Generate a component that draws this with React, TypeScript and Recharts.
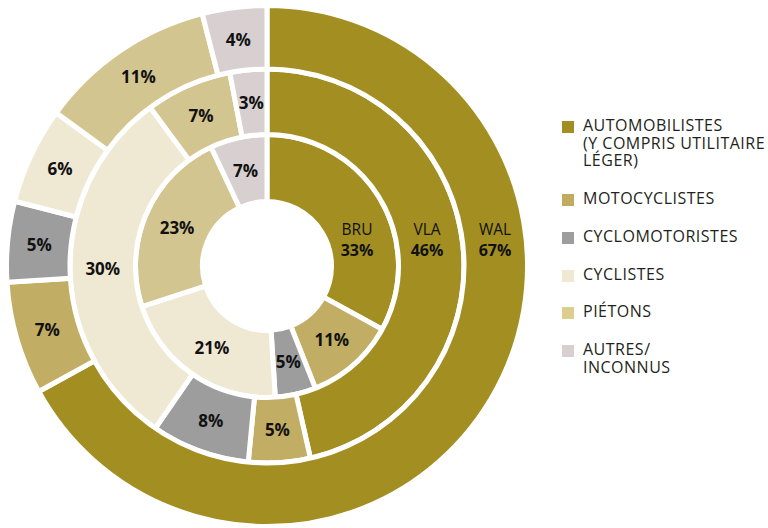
import { PieChart, Pie, Cell } from "recharts";

const CATEGORIES = [
  "Automobilistes",
  "Motocyclistes",
  "Cyclomotoristes",
  "Cyclistes",
  "Piétons",
  "Autres/inconnus",
];

const LEGEND_LABELS = [
  "AUTOMOBILISTES\n(Y COMPRIS UTILITAIRE\nLÉGER)",
  "MOTOCYCLISTES",
  "CYCLOMOTORISTES",
  "CYCLISTES",
  "PIÉTONS",
  "AUTRES/\nINCONNUS",
];

const COLORS = [
  "#a38f21", // olive
  "#c1ad63", // tan
  "#9d9d9d", // grey
  "#efe8d3", // cream
  "#d3c590", // light tan
  "#d8d0d0", // pinkish grey
];

const LEGEND_COLORS = ["#a38f21", "#c0ab60", "#9d9d9d", "#efe8d3", "#dccf8e", "#d8d0d0"];

const REGIONS = ["BRU", "VLA", "WAL"];
const BRU = [33, 11, 5, 21, 23, 7];
const VLA = [46, 5, 8, 30, 7, 3];
const WAL = [67, 7, 5, 6, 11, 4];

const CX = 267;
const CY = 266;
const FONT = "'Open Sans', sans-serif";
const RAD = Math.PI / 180;

// ring geometry (stroke of 5 px eats 2.5 px on each side)
const RINGS = [
  { values: BRU, inner: 64.5, outer: 131.5, nameR: 90 },
  { values: VLA, inner: 131.5, outer: 197, nameR: 160 },
  { values: WAL, inner: 197, outer: 260.5, nameR: 228 },
];

const makeLabel = (region: string, nameR: number) => (props: any) => {
  const { cx, cy, midAngle, innerRadius, outerRadius, value, index } = props;
  if (index === 0) {
    // region name + share, on two lines in the big olive slice
    return (
      <g>
        <text x={cx + nameR} y={cy - 31} textAnchor="middle"
          fontFamily={FONT} fontSize={15.5} fill="#111">
          {region}
        </text>
        <text x={cx + nameR} y={cy - 10} textAnchor="middle"
          fontFamily={FONT} fontSize={16} fontWeight={700} fill="#111">
          {value}%
        </text>
      </g>
    );
  }
  const r = (innerRadius + outerRadius) / 2;
  const x = cx + r * Math.cos(-midAngle * RAD);
  const y = cy + r * Math.sin(-midAngle * RAD);
  return (
    <text x={x} y={y} textAnchor="middle" dominantBaseline="central"
      fontFamily={FONT} fontSize={17} fontWeight={700} fill="#111">
      {value}%
    </text>
  );
};

export default function App() {
  return (
    <div style={{ position: "absolute", left: 0, top: 0, width: 768, height: 528, background: "#fff" }}>
      <PieChart width={768} height={528} margin={{ top: 0, right: 0, bottom: 0, left: 0 }}>
        {RINGS.map((ring, ri) => {
          const data = CATEGORIES.map((c, i) => ({ name: c, value: ring.values[i] }));
          return (
            <Pie
              key={REGIONS[ri]}
              data={data}
              dataKey="value"
              nameKey="name"
              cx={CX}
              cy={CY}
              innerRadius={ring.inner}
              outerRadius={ring.outer}
              startAngle={90}
              endAngle={-270}
              stroke="#fff"
              strokeWidth={5}
              label={makeLabel(REGIONS[ri], ring.nameR)}
              labelLine={false}
              isAnimationActive={false}
            >
              {data.map((d, i) => (
                <Cell key={i} fill={COLORS[i]} />
              ))}
            </Pie>
          );
        })}
      </PieChart>

      {/* Legend */}
      <div style={{ position: "absolute", left: 562, top: 117, fontFamily: FONT, fontSize: 16, letterSpacing: 0.5, lineHeight: "17.7px", color: "#231f20" }}>
        {LEGEND_LABELS.map((l, i) => (
          <div key={i} style={{ display: "flex", alignItems: "flex-start", marginBottom: 20 }}>
            <div style={{ width: 12, height: 12, marginTop: 4, marginRight: 9, background: LEGEND_COLORS[i] }} />
            <div style={{ whiteSpace: "pre-line" }}>{l}</div>
          </div>
        ))}
      </div>
    </div>
  );
}
